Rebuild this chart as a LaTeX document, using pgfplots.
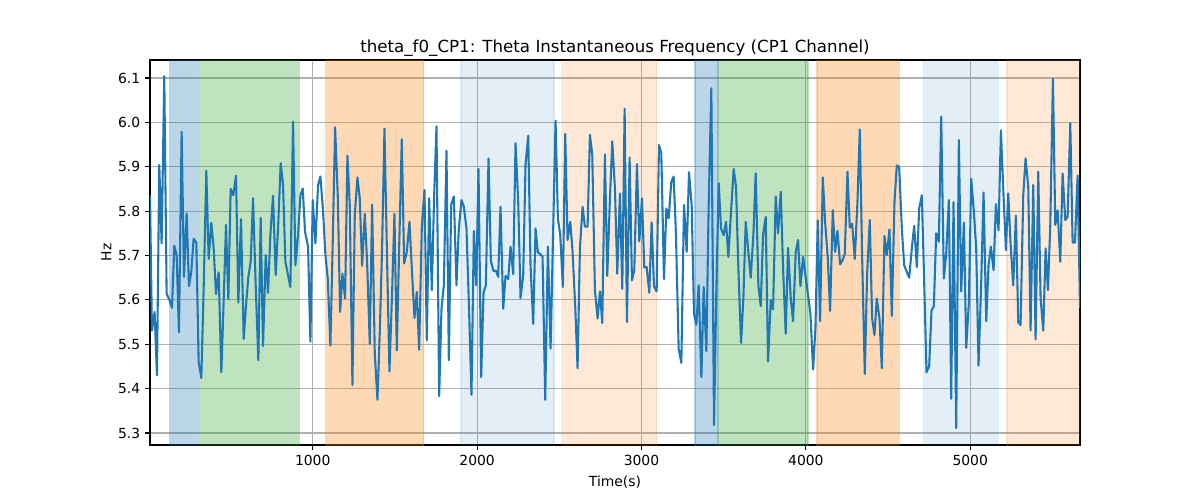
\documentclass[border=0pt]{standalone}
\usepackage{fontspec}
\setmainfont{DejaVu Sans}
\usepackage{pgfplots}
\pgfplotsset{compat=1.18}
\definecolor{tabblue}{HTML}{1F77B4}
\definecolor{tabgreen}{HTML}{2CA02C}
\definecolor{taborange}{HTML}{FF7F0E}
\definecolor{gridgray}{HTML}{B0B0B0}
\begin{document}
\begin{tikzpicture}
\begin{axis}[
  at={(0,0)}, anchor=south west,
  scale only axis, width=669.6pt, height=277.2pt,
  xmin=10, xmax=5668, ymin=5.273, ymax=6.1406,
  xtick={1000,2000,3000,4000,5000},
  ytick={5.3,5.4,5.5,5.6,5.7,5.8,5.9,6.0,6.1},
  scaled ticks=false,
  xticklabel style={/pgf/number format/.cd, 1000 sep={}},
  yticklabel style={/pgf/number format/.cd, fixed, fixed zerofill, precision=1},
  /pgf/number format/assume math mode=true,
  tick label style={font=\fontsize{10}{12}\selectfont},
  tick align=outside, tick pos=left,
  major tick length=3.5pt,
  every tick/.style={black, line width=0.8pt},
  grid=major,
  major grid style={gridgray, line width=0.8pt},
  axis line style={black, line width=0.8pt},
  title={theta\_f0\_CP1: Theta Instantaneous Frequency (CP1 Channel)},
  title style={font=\fontsize{12}{14}\selectfont, yshift=-7pt},
  xlabel={Time(s)}, ylabel={Hz},
  label style={font=\fontsize{10}{12}\selectfont},
  xlabel style={yshift=-1pt},
  ylabel style={yshift=-2pt},
]
\addplot[draw=tabblue, draw opacity=0.3, fill=tabblue, fill opacity=0.3, line width=1pt] coordinates {(129,5.2) (129,6.2) (304,6.2) (304,5.2)} -- cycle;
\addplot[draw=tabgreen, draw opacity=0.3, fill=tabgreen, fill opacity=0.3, line width=1pt] coordinates {(312,5.2) (312,6.2) (918,6.2) (918,5.2)} -- cycle;
\addplot[draw=taborange, draw opacity=0.3, fill=taborange, fill opacity=0.3, line width=1pt] coordinates {(1079,5.2) (1079,6.2) (1675,6.2) (1675,5.2)} -- cycle;
\addplot[draw=tabblue, draw opacity=0.12, fill=tabblue, fill opacity=0.12, line width=1pt] coordinates {(1901,5.2) (1901,6.2) (2467,6.2) (2467,5.2)} -- cycle;
\addplot[draw=taborange, draw opacity=0.17, fill=taborange, fill opacity=0.17, line width=1pt] coordinates {(2514,5.2) (2514,6.2) (3092,6.2) (3092,5.2)} -- cycle;
\addplot[draw=tabblue, draw opacity=0.3, fill=tabblue, fill opacity=0.3, line width=1pt] coordinates {(3326,5.2) (3326,6.2) (3466,6.2) (3466,5.2)} -- cycle;
\addplot[draw=tabgreen, draw opacity=0.3, fill=tabgreen, fill opacity=0.3, line width=1pt] coordinates {(3470,5.2) (3470,6.2) (4012,6.2) (4012,5.2)} -- cycle;
\addplot[draw=taborange, draw opacity=0.3, fill=taborange, fill opacity=0.3, line width=1pt] coordinates {(4069,5.2) (4069,6.2) (4568,6.2) (4568,5.2)} -- cycle;
\addplot[draw=tabblue, draw opacity=0.12, fill=tabblue, fill opacity=0.12, line width=1pt] coordinates {(4716,5.2) (4716,6.2) (5171,6.2) (5171,5.2)} -- cycle;
\addplot[draw=taborange, draw opacity=0.17, fill=taborange, fill opacity=0.17, line width=1pt] coordinates {(5223,5.2) (5223,6.2) (5700,6.2) (5700,5.2)} -- cycle;
\addplot[tabblue, line width=1.5pt, line join=round] table {
x y
10 5.836
21.8 5.531
38.1 5.573
52.3 5.430
66.5 5.904
80.7 5.727
96.9 6.104
111.1 5.614
129.4 5.599
143.6 5.582
157.8 5.722
172.0 5.701
186.2 5.527
202.5 5.979
216.7 5.652
232.9 5.795
247.1 5.631
261.3 5.663
275.5 5.738
291.8 5.729
306.0 5.460
322.2 5.424
336.4 5.625
352.6 5.891
366.8 5.692
383.1 5.774
397.3 5.716
411.5 5.613
427.7 5.662
444.0 5.437
458.2 5.599
472.4 5.769
486.6 5.601
500.8 5.850
517.0 5.836
533.3 5.880
547.5 5.594
563.7 5.782
580.0 5.512
594.1 5.588
608.3 5.652
622.5 5.686
636.8 5.829
653.0 5.633
669.2 5.464
683.4 5.785
697.6 5.496
713.9 5.701
728.1 5.616
742.3 5.746
758.5 5.835
774.8 5.656
789.0 5.761
805.2 5.908
819.4 5.859
833.6 5.686
849.8 5.656
864.0 5.629
880.3 6.002
894.5 5.678
910.7 5.746
925.0 5.835
939.1 5.851
953.4 5.753
971.6 5.720
985.8 5.506
1000.0 5.825
1016.3 5.727
1032.5 5.859
1046.7 5.878
1063.0 5.799
1077.2 5.701
1091.4 5.648
1107.6 5.497
1121.8 5.731
1136.0 5.989
1152.3 5.836
1166.5 5.573
1180.7 5.659
1196.9 5.603
1211.1 5.925
1225.3 5.814
1241.6 5.408
1255.8 5.791
1272.0 5.876
1286.2 5.829
1300.4 5.677
1316.6 5.794
1330.8 5.686
1347.1 5.501
1361.3 5.815
1377.5 5.479
1393.8 5.375
1408.0 5.527
1422.2 5.720
1436.4 5.986
1452.6 5.686
1466.8 5.439
1483.0 5.618
1497.2 5.794
1511.5 5.486
1525.7 5.716
1541.9 5.962
1556.1 5.682
1572.3 5.708
1588.6 5.776
1602.8 5.671
1619.0 5.559
1633.2 5.618
1647.4 5.488
1663.7 5.765
1679.9 5.848
1694.1 5.509
1708.3 5.829
1724.5 5.622
1738.8 5.836
1753.0 5.991
1769.2 5.383
1783.4 5.580
1797.6 5.633
1813.8 5.936
1828.0 5.464
1842.2 5.814
1858.5 5.833
1874.6 5.633
1888.9 5.761
1905.1 5.825
1919.3 5.810
1935.5 5.761
1949.7 5.595
1966.0 5.386
1980.2 5.755
1994.4 5.633
2008.6 5.895
2024.8 5.426
2039.0 5.616
2053.2 5.633
2069.5 5.919
2083.7 5.688
2099.9 5.665
2114.1 5.666
2128.3 5.652
2142.5 5.810
2158.8 5.580
2173.0 5.654
2189.2 5.647
2203.4 5.720
2219.6 5.658
2233.9 5.953
2250.1 5.821
2264.3 5.604
2280.5 5.656
2294.7 5.904
2311.0 5.970
2325.2 5.678
2341.4 5.546
2355.6 5.761
2369.8 5.707
2384.0 5.703
2398.2 5.698
2414.5 5.375
2430.7 5.720
2447.0 5.490
2477.4 6.004
2491.6 5.784
2505.8 5.746
2522.0 5.629
2536.2 5.974
2550.4 5.735
2566.7 5.776
2580.9 5.708
2597.1 5.584
2611.3 5.446
2625.5 5.716
2641.8 5.810
2656.0 5.765
2672.2 5.765
2686.4 5.972
2700.6 5.928
2716.8 5.622
2733.1 5.558
2747.3 5.619
2761.5 5.548
2777.7 5.928
2791.9 5.654
2808.2 5.829
2822.4 5.957
2838.6 5.851
2852.8 5.659
2869.1 5.840
2883.3 5.625
2897.5 6.031
2911.7 5.550
2927.9 5.921
2942.1 5.644
2956.3 5.667
2972.6 5.906
2986.8 5.732
3003.0 5.829
3017.2 5.673
3031.4 5.674
3047.7 5.616
3061.9 5.775
3076.1 5.631
3092.3 5.619
3106.5 5.949
3120.7 5.931
3137.0 5.647
3151.2 5.806
3165.4 5.784
3181.6 5.866
3195.8 5.878
3210.0 5.746
3226.3 5.490
3242.5 5.458
3258.7 5.814
3275.0 5.708
3289.2 5.888
3305.4 5.814
3319.6 5.569
3333.8 5.544
3348.0 5.633
3364.3 5.426
3378.5 5.629
3394.7 5.484
3408.9 5.814
3425.1 6.077
3441.4 5.318
3455.6 5.625
3469.8 5.863
3484.0 5.761
3500.2 5.746
3514.4 5.776
3528.6 5.697
3544.9 5.799
3561.1 5.895
3575.3 5.855
3589.5 5.671
3605.8 5.503
3620.0 5.603
3634.2 5.776
3650.4 5.708
3664.6 5.650
3680.8 5.746
3695.0 5.885
3711.3 5.633
3725.5 5.586
3739.7 5.746
3755.9 5.787
3770.1 5.461
3786.4 5.599
3800.6 5.579
3816.8 5.833
3831.0 5.750
3847.3 5.844
3861.5 5.671
3877.7 5.524
3891.9 5.717
3908.2 5.603
3922.4 5.552
3938.6 5.708
3952.8 5.735
3967.0 5.631
3983.3 5.697
3997.5 5.656
4013.7 5.610
4027.9 5.569
4044.1 5.443
4058.3 5.535
4072.5 5.779
4086.8 5.552
4103.0 5.876
4117.2 5.776
4133.4 5.695
4147.6 5.575
4163.9 5.802
4178.1 5.708
4192.3 5.756
4208.5 5.680
4222.7 5.689
4236.9 5.704
4253.2 5.889
4267.4 5.763
4281.6 5.772
4297.8 5.692
4314.1 5.821
4328.3 5.984
4342.5 5.697
4358.7 5.433
4372.9 5.659
4389.1 5.780
4403.3 5.558
4417.5 5.521
4431.7 5.603
4448.0 5.558
4462.2 5.446
4478.4 5.744
4492.6 5.701
4508.9 5.759
4523.1 5.564
4539.3 5.821
4553.5 5.903
4567.7 5.900
4584.0 5.761
4598.2 5.678
4614.4 5.663
4628.6 5.650
4644.8 5.716
4659.0 5.767
4675.3 5.674
4689.5 5.806
4705.7 5.836
4720.0 5.640
4734.2 5.437
4750.4 5.451
4764.6 5.576
4778.8 5.586
4793.0 5.750
4809.2 5.731
4823.5 6.013
4839.7 5.648
4853.9 5.704
4870.1 5.825
4884.3 5.377
4898.5 5.820
4914.8 5.311
4931.0 5.960
4945.2 5.619
4961.5 5.774
4975.7 5.492
4991.9 5.595
5006.1 5.873
5022.3 5.799
5036.5 5.716
5050.7 5.452
5067.0 5.640
5081.2 5.842
5097.4 5.552
5111.6 5.678
5125.8 5.720
5142.1 5.667
5156.3 5.816
5172.5 5.757
5186.7 5.982
5203.0 5.833
5217.2 5.712
5231.4 5.840
5245.6 5.727
5261.8 5.633
5278.0 5.790
5292.2 5.550
5306.4 5.543
5322.7 5.836
5336.9 5.919
5353.1 5.855
5367.3 5.531
5383.6 5.859
5397.8 5.511
5414.0 5.889
5428.2 5.603
5444.5 5.531
5458.7 5.716
5472.9 5.622
5487.1 5.767
5503.3 6.098
5517.5 5.769
5531.7 5.802
5548.0 5.686
5562.2 5.885
5578.4 5.780
5592.6 5.787
5608.8 5.998
5623.1 5.729
5637.3 5.729
5653.5 5.880
5668.0 5.582
};
\end{axis}
\pgfresetboundingbox
\path (-108pt,-39.6pt) rectangle (756pt,320.4pt);
\end{tikzpicture}
\end{document}
